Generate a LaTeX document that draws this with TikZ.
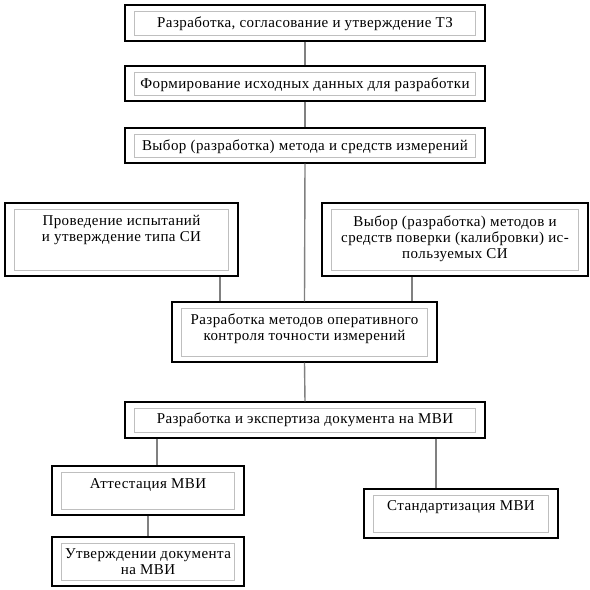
\documentclass[tikz,border=0pt]{standalone}
\usepackage{fontspec}
\setmainfont[LetterSpace=2.8]{Liberation Serif}
\tikzset{
  outerbox/.style={draw=black, line width=1.2pt, inner sep=0pt, fill=white},
  innerbox/.style={draw=black!25, line width=1pt, inner sep=0pt},
  lbl/.style={inner sep=0pt, align=center, anchor=base, font=\fontsize{15pt}{16pt}\selectfont},
  conn/.style={draw=black!50, line width=1.4pt}
}
% name, x1, y1, x2, y2, baseline of last text line, text
\newcommand\mkbox[7]{%
  \pgfmathsetmacro\bw{#4-#2}\pgfmathsetmacro\bh{#5-#3}%
  \pgfmathsetmacro\bcx{(#2+#4)/2}\pgfmathsetmacro\bcy{(#3+#5)/2}%
  \pgfmathsetmacro\iw{#4-#2-19}\pgfmathsetmacro\ih{#5-#3-12}%
  \node[outerbox, minimum width=\bw pt, minimum height=\bh pt] (#1) at (\bcx,\bcy) {};
  \node[innerbox, minimum width=\iw pt, minimum height=\ih pt] (#1i) at (\bcx,\bcy) {};
  \node[lbl] (#1t) at (\bcx,#6) {#7};
}
\begin{document}
\begin{tikzpicture}[x=1pt, y=-1pt]
\useasboundingbox (0,0) rectangle (590,590);
\fill[white] (0,0) rectangle (590,590);
\mkbox{b1}{125}{5}{485}{41}{27}{Разработка, согласование и утверждение ТЗ}
\mkbox{b2}{125}{66}{485}{101}{88}{Формирование исходных данных для разработки}
\mkbox{b3}{125}{128}{485}{163}{150}{Выбор (разработка) метода и средств измерений}
\mkbox{bl}{5}{203}{238}{276}{241}{Проведение испытаний\\и утверждение типа СИ}
\mkbox{br}{322}{203}{588}{276}{258}{Выбор (разработка) методов и\\средств поверки (калибровки) ис-\\пользуемых СИ}
\mkbox{bc}{172}{302}{437}{362}{340}{Разработка методов оперативного\\контроля точности измерений}
\mkbox{bm}{125}{402}{485}{438}{423}{Разработка и экспертиза документа на МВИ}
\mkbox{ba}{52}{466}{244}{515}{488}{Аттестация МВИ}
\mkbox{bu}{52}{537}{244}{586}{574}{Утверждении документа\\на МВИ}
\mkbox{bs}{364}{489}{558}{538}{510}{Стандартизация МВИ}
\draw[conn] (b1.south) -- (b2.north);
\draw[conn] (b2.south) -- (b3.north);
\draw[conn] (b3.south) -- (bc.north);
\draw[conn] (bl.south -| 220,0) -- (bc.north -| 220,0);
\draw[conn] (br.south -| 412,0) -- (bc.north -| 412,0);
\draw[conn] (bc.south) -- (bm.north);
\draw[conn] (bm.south -| 157,0) -- (ba.north -| 157,0);
\draw[conn] (bm.south -| 436,0) -- (bs.north -| 436,0);
\draw[conn] (ba.south) -- (bu.north);
\end{tikzpicture}
\end{document}
